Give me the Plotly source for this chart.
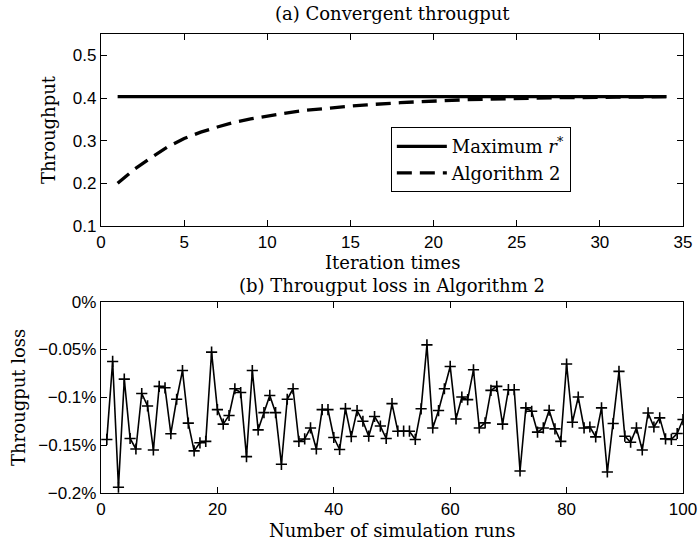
import plotly.graph_objects as go

# ---- data: (a) convergent throughput ----
iter_x = list(range(1, 35))
alg2_throughput = [0.200, 0.233, 0.260, 0.285, 0.305, 0.320, 0.332, 0.343, 0.351, 0.358,
                   0.364, 0.370, 0.374, 0.377, 0.381, 0.384, 0.387, 0.389, 0.391, 0.393,
                   0.394, 0.396, 0.397, 0.398, 0.399, 0.400, 0.400, 0.401, 0.401, 0.402,
                   0.402, 0.402, 0.403, 0.403]
max_x = [1, 34]
max_throughput = [0.403, 0.403]

# ---- data: (b) throughput loss (percent) ----
runs = list(range(1, 101))
loss_pct = [-0.144, -0.0625, -0.194, -0.081, -0.143, -0.154, -0.096, -0.109, -0.155, -0.0885,
            -0.090, -0.138, -0.102, -0.072, -0.127, -0.156, -0.1475, -0.146, -0.0527, -0.1128,
            -0.128, -0.119, -0.091, -0.095, -0.162, -0.072, -0.134, -0.116, -0.098, -0.116,
            -0.170, -0.102, -0.091, -0.146, -0.1435, -0.132, -0.154, -0.1128, -0.1128, -0.142,
            -0.1545, -0.1118, -0.141, -0.1138, -0.125, -0.1406, -0.120, -0.130, -0.143, -0.1066,
            -0.1354, -0.1354, -0.1354, -0.144, -0.112, -0.0451, -0.132, -0.1138, -0.091, -0.0677,
            -0.1226, -0.0997, -0.1024, -0.0712, -0.132, -0.1267, -0.0927, -0.0885, -0.128, -0.092,
            -0.092, -0.177, -0.111, -0.1146, -0.1364, -0.132, -0.1135, -0.133, -0.146, -0.0652,
            -0.126, -0.0997, -0.132, -0.131, -0.1413, -0.111, -0.178, -0.1274, -0.0729, -0.1406,
            -0.1469, -0.132, -0.155, -0.1163, -0.131, -0.1215, -0.1434, -0.144, -0.1378, -0.1232]

SERIF = "DejaVu Serif"
SANS = "Liberation Sans, Arial, sans-serif"

fig = go.Figure()
fig.add_trace(go.Scatter(x=max_x, y=max_throughput, mode="lines",
                         name="Maximum <i>r</i><sup>*</sup>",
                         line=dict(color="black", width=3.3),
                         xaxis="x", yaxis="y"))
fig.add_trace(go.Scatter(x=iter_x, y=alg2_throughput, mode="lines",
                         name="Algorithm 2",
                         line=dict(color="black", width=3.3, dash="15px,8px"),
                         xaxis="x", yaxis="y"))
fig.add_trace(go.Scatter(x=runs, y=loss_pct, mode="lines+markers",
                         showlegend=False,
                         line=dict(color="black", width=1.6),
                         marker=dict(symbol="cross-thin", size=8,
                                     line=dict(color="black", width=1.6)),
                         xaxis="x2", yaxis="y2"))

axis_common = dict(showline=True, linecolor="black", linewidth=1.3, mirror="ticks",
                   ticks="inside", ticklen=6, tickwidth=1, tickcolor="black",
                   showgrid=False, zeroline=False, automargin=False,
                   tickfont=dict(family=SANS, size=17, color="black"))

fig.update_layout(
    template="none",
    width=698, height=541,
    margin=dict(l=101, r=15, t=34, b=48, autoexpand=False),
    paper_bgcolor="white", plot_bgcolor="white",
    font=dict(family=SERIF, color="black"),
    xaxis=dict(domain=[0, 1], range=[0, 35], dtick=5, anchor="y", **axis_common),
    yaxis=dict(domain=[0.5817, 1.0], range=[0.1, 0.55], tickvals=[0.1, 0.2, 0.3, 0.4, 0.5],
               anchor="x",
               title=dict(text="Throughput", font=dict(family=SERIF, size=18), standoff=12),
               **axis_common),
    xaxis2=dict(domain=[0, 1], range=[0, 100], dtick=20, anchor="y2", **axis_common),
    yaxis2=dict(domain=[0, 0.4168], range=[-0.2, 0], dtick=0.05, ticksuffix="%",
                anchor="x2",
                title=dict(text="Througput loss", font=dict(family=SERIF, size=18), standoff=8),
                **axis_common),
    legend=dict(x=0.498, y=0.797, xanchor="left", yanchor="top",
                bordercolor="black", borderwidth=1, bgcolor="white",
                font=dict(family=SERIF, size=18, color="black"),
                itemwidth=50),
    annotations=[
        dict(text="(a) Convergent througput", xref="paper", yref="paper",
             x=0.5, y=(493 - 13.3) / 459, xanchor="center", yanchor="middle", showarrow=False,
             font=dict(family=SERIF, size=18, color="black")),
        dict(text="Iteration times", xref="paper", yref="paper",
             x=0.5, y=(493 - 262.3) / 459, xanchor="center", yanchor="middle", showarrow=False,
             font=dict(family=SERIF, size=18, color="black")),
        dict(text="(b) Througput loss in Algorithm 2", xref="paper", yref="paper",
             x=0.5, y=(493 - 285) / 459, xanchor="center", yanchor="middle", showarrow=False,
             font=dict(family=SERIF, size=18, color="black")),
        dict(text="Number of simulation runs", xref="paper", yref="paper",
             x=0.5, y=(493 - 530) / 459, xanchor="center", yanchor="middle", showarrow=False,
             font=dict(family=SERIF, size=18, color="black")),
    ],
)

fig.write_html("out.html",
               config={"displayModeBar": False},
               post_script="document.body.style.margin='0px';"
                           "document.body.style.overflow='hidden';")
